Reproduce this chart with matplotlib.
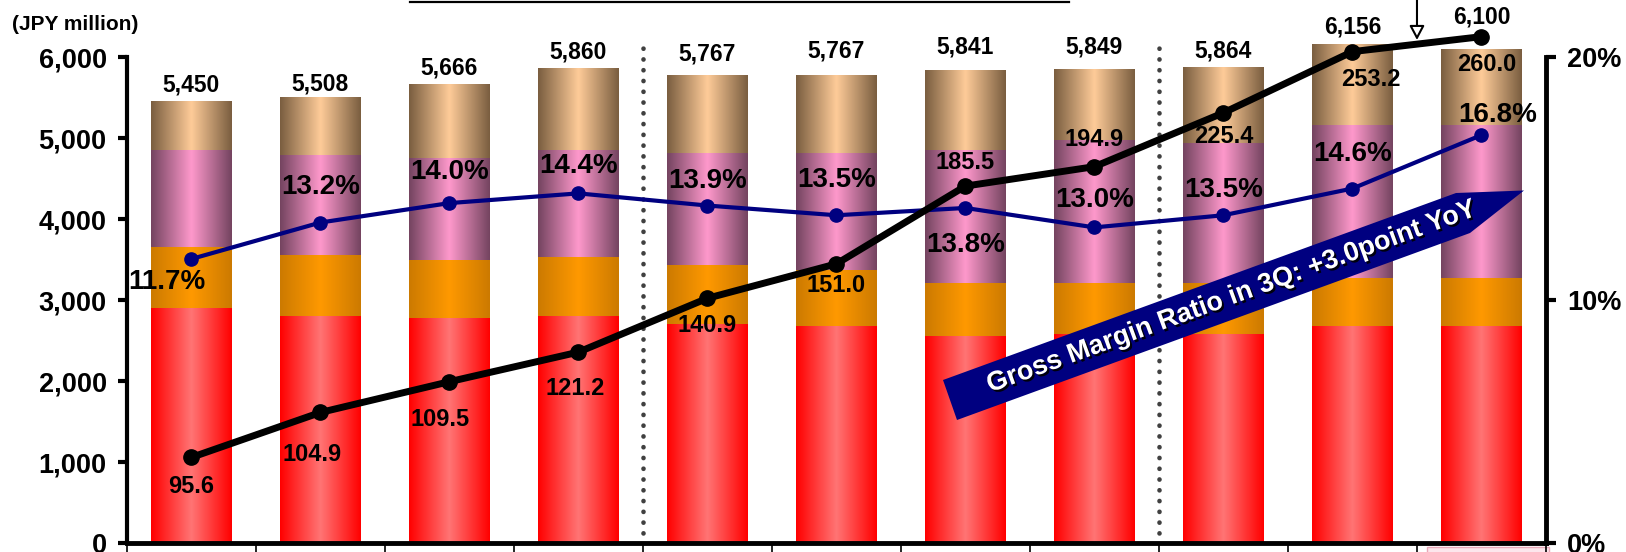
import matplotlib.pyplot as plt
import matplotlib.patheffects as pe
import matplotlib.transforms as mtransforms
import numpy as np
from matplotlib.colors import LinearSegmentedColormap
from matplotlib.lines import Line2D
from matplotlib.patches import Polygon, Rectangle

plt.rcParams['font.family'] = ['Liberation Sans', 'DejaVu Sans']
plt.rcParams['font.weight'] = 'bold'

# stacked sales segments (JPY million)
seg_red = [2910, 2806, 2785, 2806, 2707, 2686, 2560, 2584, 2590, 2686, 2686]
seg_orange = [745, 753, 713, 732, 729, 688, 650, 626, 620, 586, 586]
seg_pink = [1201, 1235, 1255, 1318, 1379, 1441, 1646, 1769, 1728, 1892, 1892]
seg_tan = [594, 714, 913, 1004, 952, 952, 985, 870, 926, 992, 936]
totals = [5450, 5508, 5666, 5860, 5767, 5767, 5841, 5849, 5864, 6156, 6100]

# gross margin ratio (%), right axis
gm_ratio = [11.7, 13.2, 14.0, 14.4, 13.9, 13.5, 13.8, 13.0, 13.5, 14.6, 16.8]

# black line: labels and plotted level (hidden 0-6000 scale)
profit_labels = [95.6, 104.9, 109.5, 121.2, 140.9, 151.0, 185.5, 194.9, 225.4, 253.2, 260.0]
profit_level = [1060, 1615, 1995, 2360, 3025, 3450, 4410, 4650, 5315, 6070, 6255]

W, H = 1626, 552
fig = plt.figure(figsize=(W / 100, H / 100), dpi=100)
ax = fig.add_axes([126.8 / W, 8.7 / H, (1546 - 126.8) / W, 486 / H])
x = np.arange(len(totals))


def gradient_bars(heights, bottoms, edge, mid):
    cmap = LinearSegmentedColormap.from_list('g', [edge, mid, edge])
    grad = np.linspace(0, 1, 128).reshape(1, -1)
    bars = ax.bar(x, heights, bottom=bottoms, width=0.625, color='none', linewidth=0)
    for b in bars:
        x0, y0 = b.get_x(), b.get_y()
        ax.imshow(grad, cmap=cmap, aspect='auto', interpolation='bicubic', zorder=1,
                  extent=[x0, x0 + b.get_width(), y0, y0 + b.get_height()], clip_on=False)


bottom = np.zeros(len(x))
for seg, edge, mid in [(seg_red, '#FF0000', '#FF7575'),
                       (seg_orange, '#CC7A00', '#FF9900'),
                       (seg_pink, '#744460', '#FF99CC'),
                       (seg_tan, '#7A5E40', '#FFCC99')]:
    gradient_bars(seg, bottom, edge, mid)
    bottom = bottom + np.array(seg)

ax.set_xlim(-0.5, 10.5)
ax.set_ylim(0, 6000)

# dotted separators
for xs in [3.5, 7.5]:
    ax.plot([xs, xs], [130, 6190], color='#404040', lw=3.3, dashes=[0.05, 2.3],
            dash_capstyle='round', solid_capstyle='round', clip_on=False, zorder=2)

# total labels
total_dy = [17, 13, 16, 17, 22, 25, 23, 23, 17, 18, 32]
for i, t in enumerate(totals):
    ax.annotate(f'{t:,}', (x[i], t), xytext=(0, total_dy[i]), textcoords='offset pixels',
                ha='center', va='center', fontsize=16.5, fontweight='bold', annotation_clip=False)

# axes styling
ax.spines['top'].set_visible(False)
ax.spines['right'].set_visible(False)
ax.spines['left'].set_linewidth(3)
ax.spines['bottom'].set_linewidth(3.5)
ax.set_yticks(range(0, 6001, 1000))
ax.set_yticklabels([f'{v:,}' for v in range(0, 6001, 1000)])
ax.tick_params(axis='y', length=6.5, width=3, pad=8, labelsize=19.5)
ax.set_xticks(np.arange(-0.5, 11, 1))
ax.set_xticklabels([])
ax.tick_params(axis='x', length=10, width=1.2)

# highlighted label cell under the last category
blend = mtransforms.blended_transform_factory(ax.transData, ax.transAxes)
ax.add_patch(Rectangle((9.58, -0.1), 0.94, 0.092, transform=blend, fc='#FCE6EC',
                       ec='#E8A8B8', lw=1, clip_on=False, zorder=0))

# banner
def fpt(px, py):
    return (px / W, 1 - py / H)


banner = [fpt(943, 380), fpt(1456, 193), fpt(1524, 190.5), fpt(1470, 233), fpt(957, 420)]
ax.add_patch(Polygon(banner, closed=True, transform=fig.transFigure, fc='#000080',
                     ec='none', zorder=6, clip_on=False))

# right axis: gross margin ratio
ax2 = ax.twinx()
ax2.set_ylim(0, 20)
for s in ['top', 'left', 'bottom']:
    ax2.spines[s].set_visible(False)
ax2.spines['right'].set_linewidth(3.5)
ax2.set_yticks([0, 10, 20])
ax2.set_yticklabels(['0%', '10%', '20%'])
ax2.tick_params(axis='y', length=7, width=3, pad=8, labelsize=19.5)
ax2.plot(x, gm_ratio, color='#000080', lw=3, marker='o', ms=9.5, clip_on=False, zorder=3)
gm_off = [(-24, -23), (0, 36), (0, 31), (0, 27), (0, 25), (0, 35), (0, -37), (0, 27),
          (0, 25), (0, 35), (16, 20)]
for i, v in enumerate(gm_ratio):
    ax2.annotate(f'{v:.1f}%', (x[i], v), xytext=gm_off[i], textcoords='offset pixels',
                 ha='center', va='center', fontsize=20, fontweight='bold', annotation_clip=False)

# black line on hidden axis
ax3 = ax.twinx()
ax3.set_ylim(0, 6000)
ax3.axis('off')
ax3.plot(x, profit_level, color='black', lw=5, marker='o', ms=11, clip_on=False, zorder=4)
pr_off = [(0, -29), (-8, -42), (-9, -38), (-3, -36), (0, -27), (0, -22), (0, 24), (0, 27),
          (0, -24), (18, -28), (5, -28)]
for i, v in enumerate(profit_labels):
    ax3.annotate(f'{v:.1f}', (x[i], profit_level[i]), xytext=pr_off[i], textcoords='offset pixels',
                 ha='center', va='center', fontsize=17, fontweight='bold', annotation_clip=False)

# pointer arrow at top
ax3.annotate('', xy=(9.5, 6214), xytext=(9.5, 6900), annotation_clip=False,
             arrowprops=dict(arrowstyle='-|>,head_length=0.85,head_width=0.45', lw=1.5,
                             ec='black', fc='white', shrinkA=0, shrinkB=0))

fig.text(1232 / W, 1 - 297 / H, 'Gross Margin Ratio in 3Q: +3.0point YoY', rotation=20,
         rotation_mode='anchor', ha='center', va='center', color='white', fontsize=19.5,
         fontweight='bold', zorder=10,
         path_effects=[pe.SimplePatchShadow(offset=(1.5, -1.5), shadow_rgbFace='black', alpha=0.9),
                       pe.Normal()])

fig.text(12 / W, 1 - 24 / H, '(JPY million)', ha='left', va='center', fontsize=15, fontweight='bold')
fig.add_artist(Line2D([410 / W, 1069 / W], [1 - 2 / H, 1 - 2 / H], transform=fig.transFigure,
                      color='black', lw=1.6))

fig.savefig('out.png', dpi=100)
